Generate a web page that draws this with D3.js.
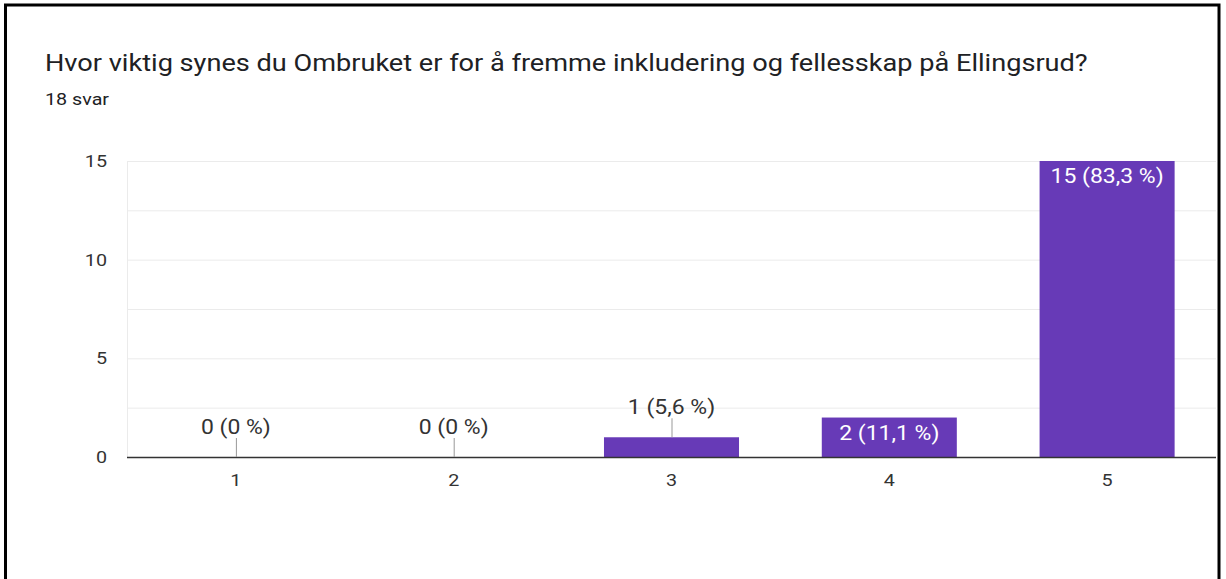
<!DOCTYPE html>
<html>
<head>
<meta charset="utf-8">
<script src="https://cdn.jsdelivr.net/npm/d3@7"></script>
<style>
  html, body { margin: 0; padding: 0; background: #fff; }
  svg { display: block; font-family: Roboto, Arial, sans-serif; }
</style>
</head>
<body>
<div class="chart"></div>
<script>
const title = "Hvor viktig synes du Ombruket er for å fremme inkludering og fellesskap på Ellingsrud?";
const subtitle = "18 svar";
const categories = ["1", "2", "3", "4", "5"];
const counts = [0, 0, 1, 2, 15];
const labels = ["0 (0 %)", "0 (0 %)", "1 (5,6 %)", "2 (11,1 %)", "15 (83,3 %)"];
const yTicks = [0, 5, 10, 15];
const gridValues = [0, 2.5, 5, 7.5, 10, 12.5, 15];

const W = 1226, H = 579;
const margin = { left: 127, right: 10, top: 161, bottom: 122 };
// text in the screenshot is a little wider than the plain font
const SX = 1.16;

const svg = d3.select(".chart").append("svg")
    .attr("width", W)
    .attr("height", H);

// place text at (x, y), stretched horizontally around its anchor
function put(sel, x, y) {
    return sel.attr("transform", (d, i) =>
        "translate(" + x(d, i) + "," + y(d, i) + ") scale(" + SX + ",1)");
}

// frame
svg.append("rect")
    .attr("x", 5.5).attr("y", 5).attr("width", 1213.5).attr("height", 600)
    .attr("fill", "none").attr("stroke", "#000").attr("stroke-width", 3);

put(svg.append("text").datum(title), () => 45, () => 71)
    .attr("font-size", 23.4).attr("fill", "#202124")
    .text(d => d);

put(svg.append("text").datum(subtitle), () => 45, () => 105)
    .attr("font-size", 17).attr("fill", "#202124")
    .text(d => d);

const x = d3.scaleBand()
    .domain(categories)
    .range([margin.left, W - margin.right])
    .paddingInner(0.38)
    .paddingOuter(0.19);

const y = d3.scaleLinear()
    .domain([0, 15])
    .range([H - margin.bottom, margin.top]);

// grid
svg.append("g").selectAll("line")
    .data(gridValues.filter(d => d > 0))
    .join("line")
    .attr("x1", margin.left).attr("x2", W - margin.right)
    .attr("y1", d => y(d) + 0.5).attr("y2", d => y(d) + 0.5)
    .attr("stroke", "#ebebeb").attr("stroke-width", 1);

svg.append("line")
    .attr("x1", margin.left + 0.5).attr("x2", margin.left + 0.5)
    .attr("y1", y(15)).attr("y2", y(0))
    .attr("stroke", "#ebebeb");

// y tick labels
put(svg.append("g").selectAll("text").data(yTicks).join("text"),
        () => 107, d => y(d) + 6)
    .attr("text-anchor", "end")
    .attr("font-size", 17).attr("fill", "#333")
    .text(d => d);

// bars
const data = categories.map((c, i) => ({ c, v: counts[i], label: labels[i] }));

svg.append("g").selectAll("rect")
    .data(data.filter(d => d.v > 0))
    .join("rect")
    .attr("x", d => x(d.c))
    .attr("y", d => y(d.v))
    .attr("width", x.bandwidth())
    .attr("height", d => y(0) - y(d.v))
    .attr("fill", "#673ab7");

// axis line
svg.append("line")
    .attr("x1", margin.left).attr("x2", W - margin.right)
    .attr("y1", y(0) + 0.5).attr("y2", y(0) + 0.5)
    .attr("stroke", "#333").attr("stroke-width", 1.5);

// x labels
put(svg.append("g").selectAll("text").data(categories).join("text"),
        d => x(d) + x.bandwidth() / 2, () => y(0) + 29)
    .attr("text-anchor", "middle")
    .attr("font-size", 17).attr("fill", "#333")
    .text(d => d);

// value labels: inside when bar tall enough, otherwise callout
const inside = d => (y(0) - y(d.v)) >= 30;

svg.append("g").selectAll("line")
    .data(data.filter(d => !inside(d)))
    .join("line")
    .attr("x1", d => x(d.c) + x.bandwidth() / 2 + 0.5)
    .attr("x2", d => x(d.c) + x.bandwidth() / 2 + 0.5)
    .attr("y1", d => y(d.v))
    .attr("y2", d => y(d.v) - 19)
    .attr("stroke", "#999").attr("stroke-width", 1);

put(svg.append("g").selectAll("text").data(data).join("text"),
        d => x(d.c) + x.bandwidth() / 2,
        d => inside(d) ? y(d.v) + 22 : y(d.v) - 23)
    .attr("text-anchor", "middle")
    .attr("font-size", 19.8)
    .attr("fill", d => inside(d) ? "#fff" : "#333")
    .text(d => d.label);
</script>
</body>
</html>
